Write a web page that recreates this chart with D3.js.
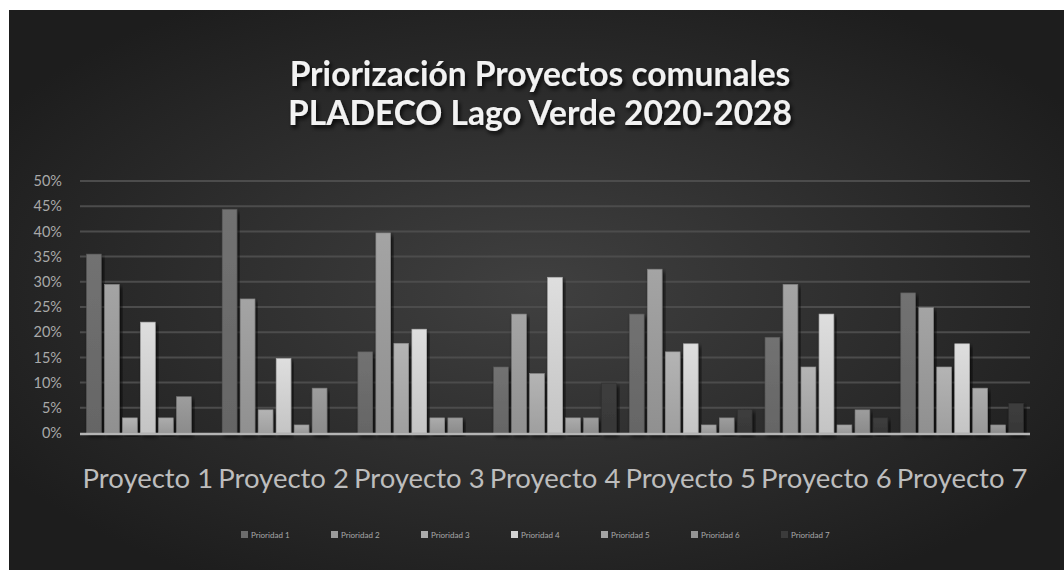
<!DOCTYPE html>
<html><head><meta charset="utf-8">
<script src="https://cdn.jsdelivr.net/npm/d3@7"></script>
<style>html,body{margin:0;padding:0;background:#fff;}svg{display:block;}</style>
</head><body>
<svg id="chart" width="1064" height="570"></svg>
<script>
const categories = ["Proyecto 1","Proyecto 2","Proyecto 3","Proyecto 4","Proyecto 5","Proyecto 6","Proyecto 7"];
const seriesNames = ["Prioridad 1","Prioridad 2","Prioridad 3","Prioridad 4","Prioridad 5","Prioridad 6","Prioridad 7"];
const prioridad1 = [35.5, 44.4, 16.1, 13.1, 23.6, 19.0, 27.8];
const prioridad2 = [29.5, 26.6, 39.7, 23.6, 32.5, 29.5, 24.9];
const prioridad3 = [3.0, 4.6, 17.8, 11.8, 16.1, 13.1, 13.1];
const prioridad4 = [22.0, 14.8, 20.6, 30.9, 17.7, 23.6, 17.7];
const prioridad5 = [3.0, 1.6, 3.0, 3.0, 1.6, 1.6, 8.9];
const prioridad6 = [7.2, 8.9, 3.0, 3.0, 3.0, 4.6, 1.6];
const prioridad7 = [0, 0, 0, 9.9, 4.7, 3.0, 5.9];
const yTicks = [0,5,10,15,20,25,30,35,40,45,50];
const title = ["Priorización Proyectos comunales","PLADECO Lago Verde 2020-2028"];

(function(){
const seriesValues = [prioridad1,prioridad2,prioridad3,prioridad4,prioridad5,prioridad6,prioridad7];
const colors = ["#6c6c6c","#9b9b9b","#ababab","#d2d2d2","#a3a3a3","#959595","#3b3b3b"];

const svg = d3.select("#chart");
const defs = svg.append("defs");
const bg = defs.append("radialGradient").attr("id","bg").attr("cx","50%").attr("cy","50%").attr("r","60%");
bg.append("stop").attr("offset","0%").attr("stop-color","#404040");
bg.append("stop").attr("offset","100%").attr("stop-color","#1d1d1d");
colors.forEach((c,i)=>{
  const g = defs.append("linearGradient").attr("id","g"+i).attr("x1",0).attr("y1",0).attr("x2",0).attr("y2",1);
  g.append("stop").attr("offset","0%").attr("stop-color",d3.color(c).brighter(0.15));
  g.append("stop").attr("offset","100%").attr("stop-color",d3.color(c).darker(0.2));
});
const f = defs.append("filter").attr("id","shadow").attr("x","-20%").attr("y","-20%").attr("width","140%").attr("height","140%");
f.append("feDropShadow").attr("dx",2).attr("dy",3).attr("stdDeviation",2).attr("flood-color","#000").attr("flood-opacity",0.8);

svg.append("rect").attr("x",9).attr("y",10).attr("width",1055).attr("height",560).attr("fill","url(#bg)");

const pLeft=80, pRight=1030, pTop=181, pBottom=433;
const y = d3.scaleLinear().domain([0,50]).range([pBottom,pTop]);
const x0 = d3.scaleBand().domain(categories).range([pLeft,pRight]).padding(0);
const x1 = d3.scaleBand().domain(seriesNames).range([0,x0.bandwidth()]).paddingInner(0.18).paddingOuter(0.36);

svg.append("g").selectAll("line").data(yTicks.filter(t=>t>0)).join("line")
  .attr("x1",pLeft).attr("x2",pRight).attr("y1",d=>y(d)).attr("y2",d=>y(d))
  .attr("stroke","#4c4c4c").attr("stroke-width",2);

const yAxis = d3.axisLeft(y).tickValues(yTicks).tickFormat(d=>d+"%").tickSize(0).tickPadding(0);
const ya = svg.append("g").attr("transform",`translate(62,0)`).call(yAxis);
ya.select(".domain").remove();
ya.selectAll("text").attr("font-family","Lato, sans-serif").attr("font-size",14.5).attr("fill","#a9a9a9");

const groups = svg.append("g").selectAll("g").data(categories).join("g")
  .attr("transform",d=>`translate(${x0(d)},0)`);
groups.selectAll("rect").data((c,ci)=>seriesNames.map((s,si)=>({s,si,v:seriesValues[si][ci]})).filter(d=>d.v>0))
  .join("rect")
  .attr("x",d=>x1(d.s)).attr("width",x1.bandwidth())
  .attr("y",d=>y(d.v)).attr("height",d=>y(0)-y(d.v))
  .attr("fill",d=>`url(#g${d.si})`)
  .attr("stroke",d=>d3.color(colors[d.si]).darker(0.6)).attr("stroke-width",0.6)
  .attr("filter","url(#shadow)");

svg.append("line").attr("x1",pLeft).attr("x2",pRight).attr("y1",pBottom+1).attr("y2",pBottom+1)
  .attr("stroke","#b5b5b5").attr("stroke-width",2.5);

const xAxis = d3.axisBottom(x0).tickSize(0).tickPadding(0);
const xa = svg.append("g").attr("transform",`translate(0,478)`).call(xAxis);
xa.select(".domain").remove();
xa.selectAll("text").attr("font-family","Lato, sans-serif").attr("font-size",27.5).attr("fill","#bdbdbd").attr("dy","0.35em");

svg.append("g").selectAll("text").data(title).join("text")
  .attr("x",540).attr("y",(d,i)=>86+i*39).attr("text-anchor","middle")
  .attr("font-family","Lato, sans-serif").attr("font-weight","bold").attr("font-size",33.5)
  .attr("fill","#f2f2f2").attr("filter","url(#shadow)").text(d=>d);

const leg = svg.append("g").selectAll("g").data(seriesNames).join("g")
  .attr("transform",(d,i)=>`translate(${241+i*90},531)`);
leg.append("rect").attr("width",7).attr("height",7).attr("fill",(d,i)=>colors[i]);
leg.append("text").attr("x",10).attr("y",6.5).attr("font-family","Lato, sans-serif").attr("font-size",8)
  .attr("fill","#a9a9a9").text(d=>d);
})();
</script>
</body></html>
